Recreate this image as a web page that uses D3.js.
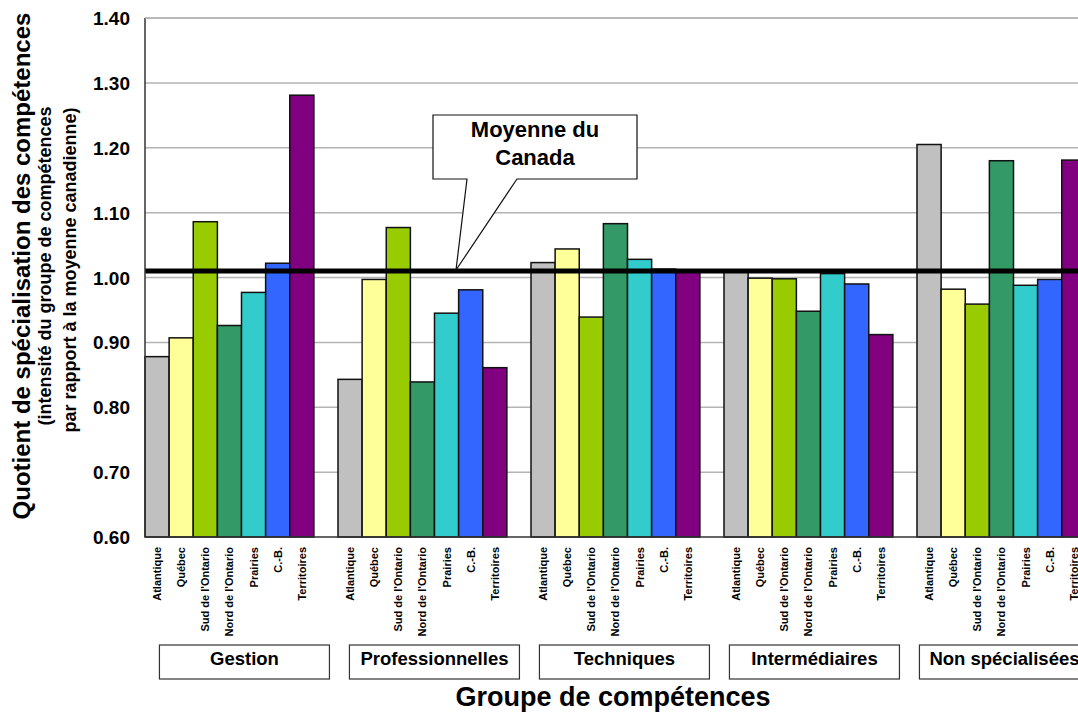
<!DOCTYPE html>
<html>
<head>
<meta charset="utf-8">
<script src="https://cdn.jsdelivr.net/npm/d3@7"></script>
<style>
  body { margin: 0; background: #fff; }
  svg { font-family: "Liberation Sans", Arial, sans-serif; font-weight: bold; }
</style>
</head>
<body>
<script>
// données
const groupes = ['Gestion', 'Professionnelles', 'Techniques', 'Intermédiaires', 'Non spécialisées']
const regions = ['Atlantique', 'Québec', "Sud de l'Ontario", "Nord de l'Ontario", 'Prairies', 'C.-B.', 'Territoires']
const gestion = [0.878, 0.907, 1.086, 0.926, 0.977, 1.022, 1.281]
const professionnelles = [0.843, 0.997, 1.077, 0.839, 0.945, 0.981, 0.861]
const techniques = [1.023, 1.044, 0.939, 1.083, 1.028, 1.013, 1.010]
const intermediaires = [1.009, 0.999, 0.998, 0.948, 1.006, 0.990, 0.912]
const nonSpecialisees = [1.205, 0.982, 0.959, 1.180, 0.988, 0.997, 1.181]
const moyenneCanada = 1.01
const yTicks = [0.6, 0.7, 0.8, 0.9, 1.0, 1.1, 1.2, 1.3, 1.4]
const couleurs = ['#c0c0c0', '#ffff99', '#99cc00', '#339966', '#33cccc', '#3366ff', '#800080']

const series = [gestion, professionnelles, techniques, intermediaires, nonSpecialisees]

// dimensions
const WIDTH = 1078
const HEIGHT = 726
const LEFT = 145
const TOP = 18
const BOTTOM = 537
const RIGHT = 1110 // le graphique dépasse du cadre à droite

const svg = d3.select('body')
  .append('svg')
  .attr('width', WIDTH)
  .attr('height', HEIGHT)

const yScale = d3.scaleLinear()
  .domain([0.6, 1.4])
  .range([BOTTOM, TOP])

const xGroupe = d3.scaleBand()
  .domain(groupes)
  .range([LEFT, RIGHT])

// 7 bâtons + un espace vide par groupe
const xRegion = d3.scaleBand()
  .domain(regions)
  .range([0, xGroupe.bandwidth() * 7 / 8])

// lignes de grille
svg.append('g')
  .selectAll('line')
  .data(yTicks.slice(1))
  .enter()
  .append('line')
  .attr('x1', LEFT)
  .attr('x2', WIDTH)
  .attr('y1', d => yScale(d))
  .attr('y2', d => yScale(d))
  .attr('stroke', '#b4b4b4')
  .attr('stroke-width', 1.5)

// étiquettes de l'axe y
svg.append('g')
  .selectAll('text')
  .data(yTicks)
  .enter()
  .append('text')
  .attr('x', 130)
  .attr('y', d => yScale(d) + 7)
  .attr('text-anchor', 'end')
  .attr('font-size', 19)
  .text(d => d.toFixed(2))

// bâtons
const g = svg.append('g')
  .selectAll('g')
  .data(groupes)
  .enter()
  .append('g')
  .attr('transform', d => `translate(${xGroupe(d)},0)`)

g.selectAll('rect')
  .data((d, i) => series[i].map((v, j) => ({ region: regions[j], valeur: v, couleur: couleurs[j] })))
  .enter()
  .append('rect')
  .attr('x', d => xRegion(d.region))
  .attr('width', xRegion.bandwidth())
  .attr('y', d => yScale(d.valeur))
  .attr('height', d => yScale(0.6) - yScale(d.valeur))
  .attr('fill', d => d.couleur)
  .attr('stroke', '#111')
  .attr('stroke-width', 1.5)

// noms des régions
g.selectAll('text')
  .data(regions)
  .enter()
  .append('text')
  .attr('transform', d => `translate(${xRegion(d) + xRegion.bandwidth() / 2 + 4},547) rotate(-90)`)
  .attr('text-anchor', 'end')
  .attr('font-size', 11)
  .text(d => d)

// boîtes des groupes
const boite = svg.append('g')
  .selectAll('g')
  .data(groupes)
  .enter()
  .append('g')
  .attr('transform', (d, i) => `translate(${xGroupe(d) + xGroupe.bandwidth() * 7 / 16 + 15 - 3 * i},0)`)

boite.append('rect')
  .attr('x', -85)
  .attr('y', 645)
  .attr('width', 170)
  .attr('height', 34)
  .attr('fill', '#fff')
  .attr('stroke', '#333')
  .attr('stroke-width', 1.2)

boite.append('text')
  .attr('y', 665)
  .attr('text-anchor', 'middle')
  .attr('font-size', 18.5)
  .text(d => d)

// ligne de la moyenne du Canada
svg.append('line')
  .attr('x1', LEFT)
  .attr('x2', WIDTH)
  .attr('y1', yScale(moyenneCanada))
  .attr('y2', yScale(moyenneCanada))
  .attr('stroke', '#000')
  .attr('stroke-width', 5)

// axes
svg.append('line')
  .attr('x1', LEFT).attr('x2', LEFT)
  .attr('y1', TOP).attr('y2', BOTTOM)
  .attr('stroke', '#333').attr('stroke-width', 1.5)
svg.append('line')
  .attr('x1', LEFT).attr('x2', WIDTH)
  .attr('y1', BOTTOM).attr('y2', BOTTOM)
  .attr('stroke', '#333').attr('stroke-width', 1.5)
svg.append('line')
  .attr('x1', LEFT).attr('x2', WIDTH)
  .attr('y1', TOP).attr('y2', TOP)
  .attr('stroke', '#b4b4b4').attr('stroke-width', 1.5)

// bulle "Moyenne du Canada"
const pointe = yScale(moyenneCanada) - 1
svg.append('path')
  .attr('d', `M433,115 H637 V179 H517 L456,${pointe} L467,179 H433 Z`)
  .attr('fill', '#fff')
  .attr('stroke', '#111')
  .attr('stroke-width', 1.2)

svg.append('text')
  .attr('x', 535).attr('y', 137)
  .attr('text-anchor', 'middle')
  .attr('font-size', 22)
  .text('Moyenne du')
svg.append('text')
  .attr('x', 535).attr('y', 165)
  .attr('text-anchor', 'middle')
  .attr('font-size', 22)
  .text('Canada')

// titres
svg.append('text')
  .attr('transform', 'translate(30,266) rotate(-90)')
  .attr('text-anchor', 'middle')
  .attr('font-size', 24)
  .text('Quotient de spécialisation des compétences')
svg.append('text')
  .attr('transform', 'translate(51,266) rotate(-90)')
  .attr('text-anchor', 'middle')
  .attr('font-size', 18)
  .text('(intensité du groupe de compétences')
svg.append('text')
  .attr('transform', 'translate(76,270) rotate(-90)')
  .attr('text-anchor', 'middle')
  .attr('font-size', 18)
  .text('par rapport à la moyenne canadienne)')

svg.append('text')
  .attr('x', 613).attr('y', 706)
  .attr('text-anchor', 'middle')
  .attr('font-size', 27)
  .text('Groupe de compétences')
</script>
</body>
</html>
